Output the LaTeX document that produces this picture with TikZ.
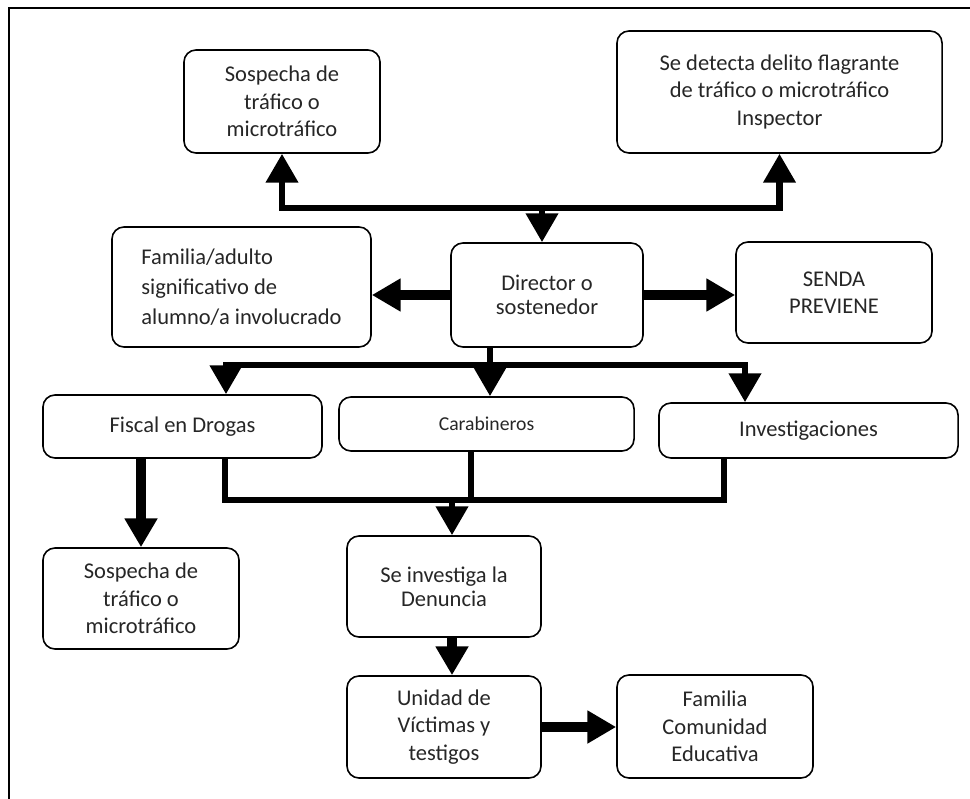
\documentclass[tikz,border=0pt]{standalone}
\usepackage{fontspec}
\setmainfont{Carlito}
\usetikzlibrary{arrows.meta}

\begin{document}
\begin{tikzpicture}[x=0.025cm, y=-0.025cm,
  every node/.style={font=\fontsize{16}{19.5}\selectfont, text=black!85},
  caja/.style={draw, line width=0.04cm, rounded corners=0.3cm, align=center},
  linea/.style={line width=0.16cm},
  flecha/.style={linea, -{Triangle[width=0.78cm, length=0.72cm]}},
  gruesa/.style={line width=0.25cm, -{Triangle[width=0.78cm, length=0.72cm]}}]
  \useasboundingbox (0,0) rectangle (970,799);
  % frame
  \draw[line width=0.05cm] (9,799) -- (9,8) -- (970,8);

  % top row
  \node[caja, minimum width=4.9cm, minimum height=2.575cm] (sospA) at (282,101.5) {Sospecha de\\tráfico o\\microtráfico};
  \node[caja, minimum width=8.125cm, minimum height=3.05cm] (detecta) at (779.5,92) {Se detecta delito flagrante\\de tráfico o microtráfico\\Inspector};

  % second row
  \node[caja, align=left, minimum width=6.475cm, minimum height=3cm, font=\fontsize{16}{21.5}\selectfont] (familia) at (241.5,287) {Familia/adulto\\significativo de\\alumno/a involucrado};
  \node[caja, minimum width=4.8cm, minimum height=2.6cm, font=\fontsize{16}{17}\selectfont] (director) at (547,295) {Director o\\sostenedor};
  \node[caja, minimum width=4.9cm, minimum height=2.525cm] (senda) at (834,292.5) {SENDA\\PREVIENE};

  % institutions
  \node[caja, minimum width=6.975cm, minimum height=1.575cm] (fiscal) at (182.5,426.5) {Fiscal en Drogas};
  \node[caja, minimum width=7.375cm, minimum height=1.35cm, font=\fontsize{14}{16}\selectfont] (carab) at (486.5,424) {Carabineros};
  \node[caja, minimum width=7.475cm, minimum height=1.375cm] (investig) at (808.5,430.5) {Investigaciones};

  % lower part
  \node[caja, minimum width=4.9cm, minimum height=2.525cm] (sospB) at (141,598.5) {Sospecha de\\tráfico o\\microtráfico};
  \node[caja, minimum width=4.85cm, minimum height=2.525cm, font=\fontsize{16}{17}\selectfont] (denuncia) at (444,586.5) {Se investiga la\\Denuncia};
  \node[caja, minimum width=4.85cm, minimum height=2.55cm] (unidad) at (444,727) {Unidad de\\Víctimas y\\testigos};
  \node[caja, minimum width=4.9cm, minimum height=2.575cm] (comunidad) at (715,726.5) {Familia\\Comunidad\\Educativa};

  % bus points
  \coordinate (topbus) at (542,208);
  \coordinate (midbus) at (490,365);
  \coordinate (midL) at (226,365);
  \coordinate (midR) at (745,365);
  \coordinate (lowL) at (225,500);
  \coordinate (lowC) at (471,500);
  \coordinate (lowM) at (452,500);
  \coordinate (lowR) at (724,500);

  % top connectors
  \draw[flecha] (topbus) -| (sospA.south);
  \draw[flecha] (topbus) -| (detecta.south);
  \draw[flecha] (topbus) -- (topbus |- director.north);

  % director sideways
  \draw[gruesa] (director.west) -- (director.west -| familia.east);
  \draw[gruesa] (director.east) -- (director.east -| senda.west);

  % director down to institutions
  \draw[flecha] (midbus) -| (midL |- fiscal.north);
  \draw[flecha] (midbus) -| (midR |- investig.north);
  \draw[flecha] (director.south -| midbus) -- (carab.north -| midbus);

  % institutions to investigation
  \draw[linea] (lowL |- fiscal.south) |- (lowR) -- (lowR |- investig.south);
  \draw[linea] (lowC |- carab.south) -- (lowC);
  \draw[flecha] (lowM) -- (lowM |- denuncia.north);
  \draw[gruesa] (fiscal.south -| sospB.north) -- (sospB.north);

  % victims unit
  \draw[gruesa] (denuncia.south -| lowM) -- (unidad.north -| lowM);
  \draw[gruesa] (unidad.east) -- (unidad.east -| comunidad.west);
\end{tikzpicture}
\end{document}
